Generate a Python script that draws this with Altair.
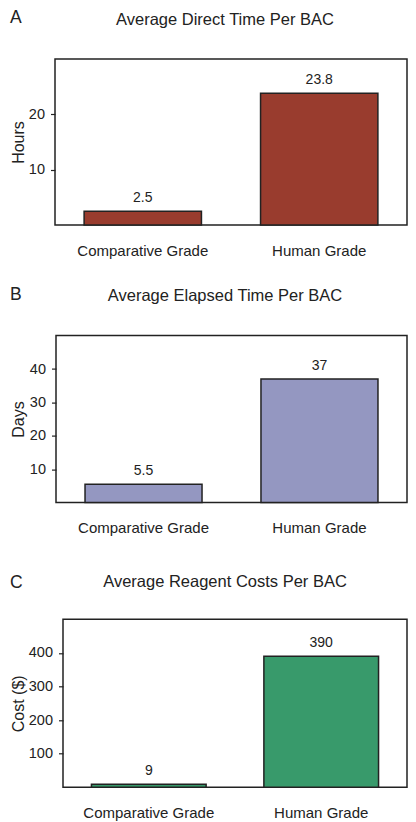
import altair as alt
import pandas as pd

# ---- data ----
categories = ["Comparative Grade", "Human Grade"]
direct_hours = [2.5, 23.8]
elapsed_days = [5.5, 37]
reagent_cost = [9, 390]

panel_letters = ["A", "B", "C"]
panel_titles = [
    "Average Direct Time Per BAC",
    "Average Elapsed Time Per BAC",
    "Average Reagent Costs Per BAC",
]
y_titles = ["Hours", "Days", "Cost ($)"]
y_domains = [[0, 30], [0, 50], [0, 500]]
y_ticks = [[10, 20], [10, 20, 30, 40], [100, 200, 300, 400]]
bar_colors = ["#993c2e", "#9497c1", "#389a6b"]

FONT = "Liberation Sans"
INK = "#222222"


def panel(i, values, width, height, letter_x, letter_y, ytitle_x, title_x, title_y):
    df = pd.DataFrame({"category": categories, "value": values})
    x_enc = alt.X(
        "category:N",
        sort=categories,
        title=None,
        scale=alt.Scale(paddingInner=0.335, paddingOuter=0.165),
        axis=alt.Axis(
            labelAngle=0, labelFontSize=15, labelPadding=18, ticks=False, tickSize=0,
            domain=False, labelColor=INK, labelFont=FONT,
        ),
    )
    y_enc = alt.Y(
        "value:Q",
        title=y_titles[i],
        scale=alt.Scale(domain=y_domains[i], nice=False, zero=True),
        axis=alt.Axis(
            values=y_ticks[i], grid=False, domain=False, tickSize=4.5, tickColor=INK,
            tickWidth=1.2, labelPadding=6, labelFontSize=14.5, labelColor=INK,
            labelFont=FONT, titleFontSize=16, titleFontWeight="normal",
            titleColor=INK, titleFont=FONT, titleX=ytitle_x,
        ),
    )
    base = alt.Chart(df)
    bars = base.mark_bar(color=bar_colors[i], stroke=INK, strokeWidth=1.5).encode(
        x=x_enc, y=y_enc
    )
    vals = base.mark_text(
        baseline="alphabetic", dy=-9.5, fontSize=14, font=FONT, color=INK
    ).encode(
        x=alt.X("category:N", sort=categories),
        y=alt.Y("value:Q"),
        text=alt.Text("value:Q"),
    )
    head = pd.DataFrame({"letter": [panel_letters[i]], "title": [panel_titles[i]]})
    letter = alt.Chart(head).mark_text(
        align="left", baseline="alphabetic", fontSize=17.5, font=FONT, color=INK
    ).encode(x=alt.value(letter_x), y=alt.value(letter_y), text="letter:N")
    title = alt.Chart(head).mark_text(
        align="center", baseline="alphabetic", fontSize=16.5, font=FONT, color=INK
    ).encode(x=alt.value(title_x), y=alt.value(title_y), text="title:N")
    return alt.layer(bars, vals, letter, title).properties(
        width=width, height=height, view=alt.ViewBackground(stroke=INK, strokeWidth=1.5)
    )


def spacer():
    # invisible 1px cell so each panel is laid out flush-left by its own bounds
    return (
        alt.Chart(pd.DataFrame({"v": [0]}))
        .mark_point(size=0, opacity=0)
        .encode(x=alt.value(0), y=alt.value(0))
        .properties(width=1, height=1, view=alt.ViewBackground(stroke=None))
    )


pa = panel(0, direct_hours, 352, 166, -45, -35.7, -29, 170, -34)
pb = panel(1, elapsed_days, 351, 167, -46, -35.7, -30, 169, -34.7)
pc = panel(2, reagent_cost, 344, 168, -53, -31.7, -37, 162, -32.4)

row_a = alt.hconcat(spacer(), pa, spacing=0)
row_b = alt.hconcat(spacer(), pb, spacing=0)
row_c = alt.hconcat(spacer(), pc, spacing=0)

top_two = alt.vconcat(row_a, row_b, spacing=25.6)
chart = (
    alt.vconcat(top_two, row_c, spacing=35.3)
    .properties(padding=0, background="white")
    .configure_view(stroke=None)
)

chart.save("out.html", embed_options={"renderer": "svg", "actions": False})
